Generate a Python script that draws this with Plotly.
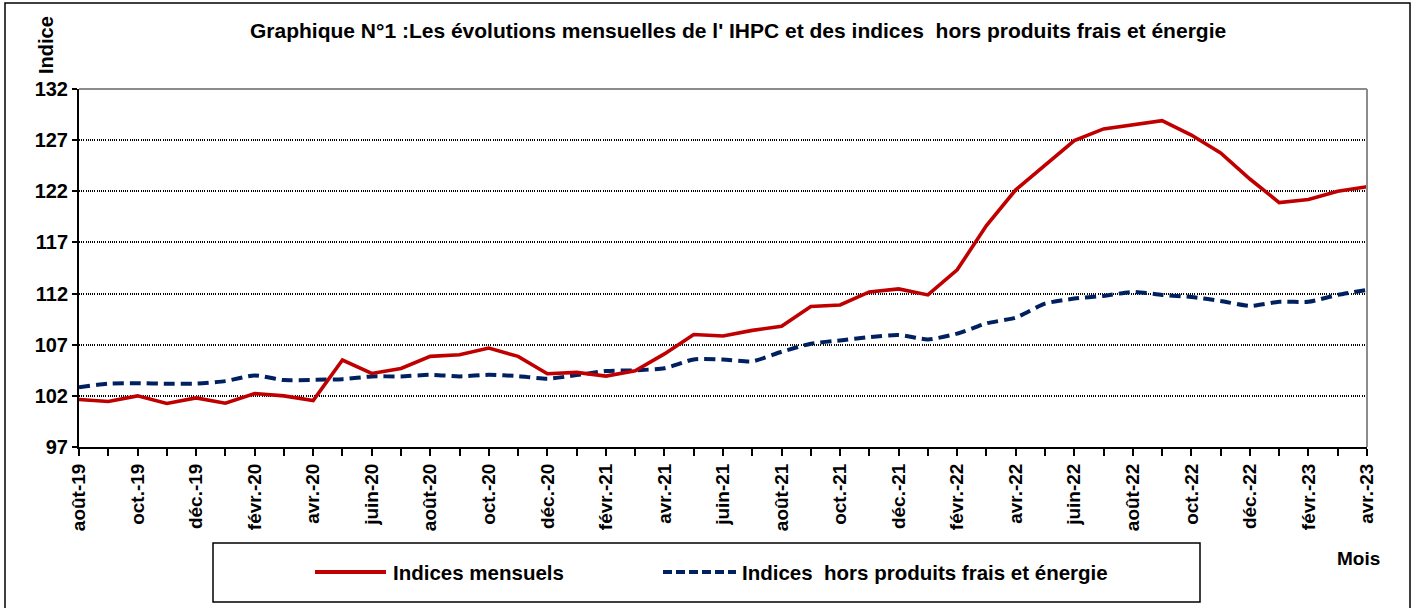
import plotly.graph_objects as go

months = ["août-19", "sept.-19", "oct.-19", "nov.-19", "déc.-19",
          "janv.-20", "févr.-20", "mars-20", "avr.-20", "mai-20", "juin-20", "juil.-20",
          "août-20", "sept.-20", "oct.-20", "nov.-20", "déc.-20",
          "janv.-21", "févr.-21", "mars-21", "avr.-21", "mai-21", "juin-21", "juil.-21",
          "août-21", "sept.-21", "oct.-21", "nov.-21", "déc.-21",
          "janv.-22", "févr.-22", "mars-22", "avr.-22", "mai-22", "juin-22", "juil.-22",
          "août-22", "sept.-22", "oct.-22", "nov.-22", "déc.-22",
          "janv.-23", "févr.-23", "mars-23", "avr.-23"]

indices_mensuels = [101.65, 101.45, 102.0, 101.25, 101.8, 101.28, 102.23, 102.0, 101.54,
                    105.5, 104.19, 104.68, 105.86, 106.02, 106.67, 105.86, 104.16, 104.29,
                    103.93, 104.45, 106.1, 108.0, 107.85, 108.4, 108.8, 110.73, 110.89,
                    112.16, 112.46, 111.87, 114.32, 118.65, 122.15, 124.5, 126.95, 128.1,
                    128.5, 128.9, 127.5, 125.75, 123.2, 120.9, 121.2, 122.0, 122.45]

indices_hors_pfe = [102.85, 103.2, 103.24, 103.18, 103.2, 103.44, 104.0, 103.54, 103.57,
                    103.63, 103.9, 103.9, 104.06, 103.9, 104.06, 103.93, 103.67, 104.03,
                    104.42, 104.5, 104.7, 105.56, 105.56, 105.37, 106.31, 107.1, 107.42,
                    107.75, 107.95, 107.52, 108.08, 109.09, 109.65, 111.02, 111.51, 111.77,
                    112.16, 111.87, 111.67, 111.28, 110.79, 111.2, 111.2, 111.87, 112.36]

y_ticks = [97, 102, 107, 112, 117, 122, 127, 132]

title_text = "Graphique N°1 :Les évolutions mensuelles de l' IHPC et des indices\u00a0 hors produits frais et énergie"
name_red = "Indices mensuels"
name_blue = "Indices\u00a0 hors produits frais et énergie"

RED = "#C00000"
BLUE = "#002060"
FONT = "Liberation Sans, Arial, sans-serif"

W, H = 1418, 608
L, R, T, B = 79, 1367, 89, 447

def px(x):
    return (x - L) / (R - L)

def py(y):
    return (B - y) / (B - T)

xs = list(range(len(months)))

fig = go.Figure()
fig.add_trace(go.Scatter(x=xs, y=indices_hors_pfe, mode="lines", name=name_blue,
                         line=dict(color=BLUE, width=4, dash="11px,6px", shape="spline", smoothing=0.6),
                         showlegend=False))
fig.add_trace(go.Scatter(x=xs, y=indices_mensuels, mode="lines", name=name_red,
                         line=dict(color=RED, width=3.6), showlegend=False))

fig.update_layout(
    width=W, height=H, autosize=False,
    margin=dict(l=L, r=W - R, t=T, b=H - B),
    paper_bgcolor="white", plot_bgcolor="white",
    font=dict(family=FONT, color="black", size=16, weight=700),
    showlegend=False,
)

fig.update_xaxes(
    range=[0, len(months) - 1],
    tickmode="array", tickvals=xs[::2], ticktext=months[::2],
    tickangle=-90, tickfont=dict(size=19, family=FONT, weight=700),
    showline=True, linecolor="black", linewidth=2,
    ticks="outside", ticklen=7, tickcolor="black", tickwidth=1.5,
    minor=dict(dtick=1, tick0=0, ticks="outside", ticklen=7, tickcolor="black", tickwidth=1.5, showgrid=False),
    showgrid=False, zeroline=False,
)
fig.update_yaxes(
    range=[97, 132], tickvals=y_ticks,
    tickfont=dict(size=20, family=FONT, weight=700),
    showline=True, linecolor="black", linewidth=2,
    ticks="outside", ticklen=5, tickcolor="black", tickwidth=1.5,
    showgrid=True, gridcolor="black", gridwidth=1.6, griddash="1px,1.2px",
    zeroline=False,
)

shapes = []
shapes.append(dict(type="line", xref="paper", yref="paper", x0=0, x1=1, y0=1, y1=1,
                   line=dict(color="#8c8c8c", width=2), layer="above"))
shapes.append(dict(type="line", xref="paper", yref="paper", x0=1, x1=1, y0=0, y1=1,
                   line=dict(color="#8c8c8c", width=2), layer="above"))
shapes.append(dict(type="rect", xref="paper", yref="paper", x0=px(5), x1=px(1410), y0=py(3), y1=py(612),
                   line=dict(color="black", width=1.5), fillcolor="rgba(0,0,0,0)"))
shapes.append(dict(type="rect", xref="paper", yref="paper", x0=px(213), x1=px(1200), y0=py(543), y1=py(602),
                   line=dict(color="black", width=1.5), fillcolor="white"))
shapes.append(dict(type="line", xref="paper", yref="paper", x0=px(315), x1=px(386), y0=py(572), y1=py(572),
                   line=dict(color=RED, width=4)))
shapes.append(dict(type="line", xref="paper", yref="paper", x0=px(663), x1=px(736), y0=py(572), y1=py(572),
                   line=dict(color=BLUE, width=4, dash="9px,4px")))

annotations = [
    dict(text=title_text, xref="paper", yref="paper", x=px(738), y=py(30), showarrow=False,
         xanchor="center", yanchor="middle", font=dict(size=21, family=FONT, weight=700)),
    dict(text="Indice", xref="paper", yref="paper", x=px(46), y=py(45), showarrow=False, textangle=-90,
         xanchor="center", yanchor="middle", font=dict(size=20, family=FONT, weight=700)),
    dict(text="Mois", xref="paper", yref="paper", x=px(1358), y=py(558), showarrow=False,
         xanchor="center", yanchor="middle", font=dict(size=19, family=FONT, weight=700)),
    dict(text=name_red, xref="paper", yref="paper", x=px(391), y=py(572), showarrow=False,
         xanchor="left", yanchor="middle", font=dict(size=20.5, family=FONT, weight=700)),
    dict(text=name_blue, xref="paper", yref="paper", x=px(740), y=py(572), showarrow=False,
         xanchor="left", yanchor="middle", font=dict(size=20.5, family=FONT, weight=700)),
]

fig.update_layout(shapes=shapes, annotations=annotations)
fig.write_html("out.html", config={"displayModeBar": False},
               post_script="document.body.style.margin='0px';document.body.style.overflow='hidden';")
